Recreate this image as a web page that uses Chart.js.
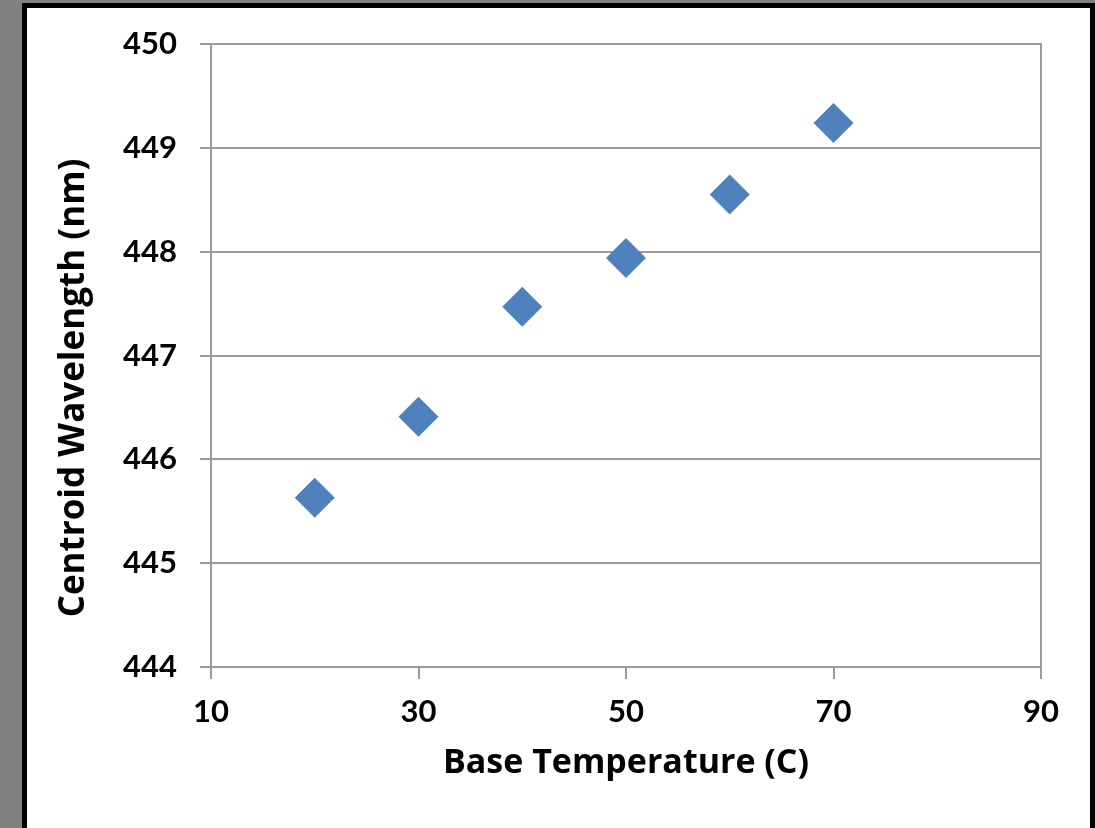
<!DOCTYPE html>
<html>
<head>
<meta charset="utf-8">
<script src="https://cdn.jsdelivr.net/npm/chart.js@4"></script>
<style>
    body { margin: 0; background: #808080; width: 1095px; height: 828px; overflow: hidden; }
    #marco {
        position: absolute; left: 22px; top: 3px;
        width: 1073px; height: 830px;
        box-sizing: border-box;
        border: 5px solid #000; border-bottom: none;
        background: #fff;
    }
    #grafico { display: block; }
</style>
</head>
<body>
<div id="marco">
    <canvas id="grafico" width="1063" height="820"></canvas>
</div>
<script>
// Datos
var temperaturas = [20, 30, 40, 50, 60, 70];
var longitudes = [445.63, 446.41, 447.47, 447.94, 448.55, 449.24];

var tituloX = "Base Temperature (C)";
var tituloY = "Centroid Wavelength (nm)";

var puntos = temperaturas.map(function (t, i) {
    return { x: t, y: longitudes[i] };
});

var colorGrid = "#9a9a9a";
var fuente = "Lato, 'Open Sans', sans-serif";
var fuenteTitulo = "'Open Sans', Lato, sans-serif";

// Titulo vertical dibujado a mano (Excel no lo centra sobre el area)
var tituloVertical = {
    id: "tituloVertical",
    afterDraw: function (chart) {
        var ctx = chart.ctx;
        ctx.save();
        ctx.translate(47, 380);
        ctx.rotate(-Math.PI / 2);
        ctx.font = "bold 35px " + fuenteTitulo;
        ctx.fillStyle = "#000";
        ctx.textAlign = "center";
        ctx.textBaseline = "middle";
        ctx.fillText(tituloY, 0, 0);
        ctx.restore();
    }
};

var ctx = document.getElementById("grafico").getContext("2d");
var grafico = new Chart(ctx, {
    type: "scatter",
    data: {
        datasets: [{
            data: puntos,
            pointStyle: "rectRot",
            pointRadius: 20,
            pointHoverRadius: 20,
            backgroundColor: "#4F81BD",
            borderWidth: 0,
            showLine: false
        }]
    },
    plugins: [tituloVertical],
    options: {
        responsive: false,
        animation: false,
        events: [],
        layout: { padding: { top: 36, right: 49, left: 0, bottom: 0 } },
        plugins: {
            legend: { display: false },
            tooltip: { enabled: false }
        },
        scales: {
            x: {
                type: "linear",
                min: 10,
                max: 90,
                afterFit: function (scale) { scale.height = 161; },
                ticks: {
                    stepSize: 20,
                    padding: 14,
                    color: "#000",
                    font: { family: fuente, size: 31, weight: "bold" }
                },
                grid: {
                    drawOnChartArea: false,
                    tickLength: 12,
                    color: colorGrid,
                    lineWidth: 2
                },
                border: { color: colorGrid, width: 2 },
                title: {
                    display: true,
                    text: tituloX,
                    color: "#000",
                    font: { family: fuenteTitulo, size: 34, weight: "bold" },
                    padding: { top: 0, bottom: 44 }
                }
            },
            y: {
                min: 444,
                max: 450,
                afterFit: function (scale) {
                    scale.width = 184;
                    scale.paddingTop = 0;
                    scale.paddingBottom = 0;
                },
                ticks: {
                    stepSize: 1,
                    padding: 23,
                    color: "#000",
                    font: { family: fuente, size: 31, weight: "bold" }
                },
                grid: {
                    tickLength: 11,
                    color: colorGrid,
                    lineWidth: 2
                },
                border: { color: colorGrid, width: 2 }
            },
            derecha: {
                position: "right",
                display: true,
                min: 444,
                max: 450,
                afterFit: function (scale) { scale.width = 0; },
                ticks: { display: false },
                grid: { display: false },
                border: { color: colorGrid, width: 2 }
            }
        }
    }
});
</script>
</body>
</html>
